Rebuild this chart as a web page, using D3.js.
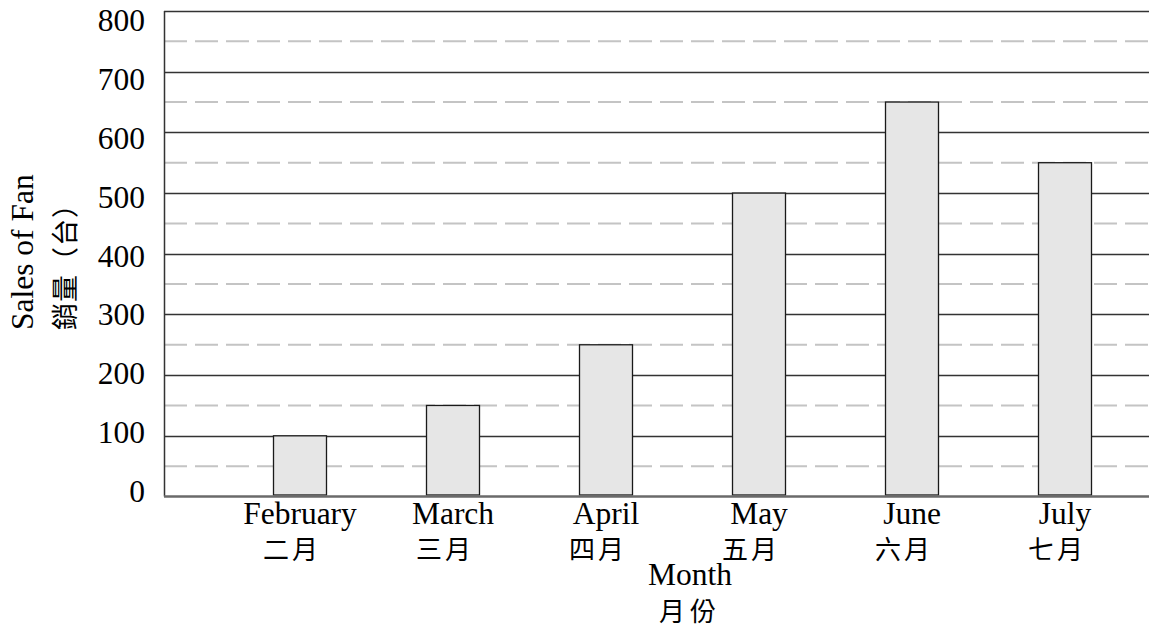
<!DOCTYPE html>
<html>
<head>
<meta charset="utf-8">
<script src="https://cdn.jsdelivr.net/npm/d3@7"></script>
<style>
  html, body { margin: 0; padding: 0; background: #fff; }
  svg { display: block; }
  .latin { font-family: "Liberation Serif", "Times New Roman", serif; fill: #000; }
  .cjk { font-family: "Noto Sans CJK TC", "Noto Sans CJK SC", sans-serif; fill: #000; }
</style>
</head>
<body>
<svg id="chart" width="1149" height="628"></svg>
<script>
// Monthly fan sales
const monthsEn = ["February", "March", "April", "May", "June", "July"];
const monthsZh = ["二月", "三月", "四月", "五月", "六月", "七月"];
const sales = [100, 150, 250, 500, 650, 550];
const yTicks = [0, 100, 200, 300, 400, 500, 600, 700, 800];
const yMinorTicks = [50, 150, 250, 350, 450, 550, 650, 750];

const W = 1149, H = 628;
const plot = { left: 164, top: 11, right: 1149, bottom: 496.5 };
const latinSize = 31.5, cjkSize = 26;

const svg = d3.select("#chart");

const y = d3.scaleLinear().domain([0, 800]).range([plot.bottom, plot.top]);
// tick labels sit in a slightly tighter band than the gridlines
const yLabel = d3.scaleLinear().domain([0, 800]).range([492, 21]);

const x = d3.scalePoint().domain(monthsEn).range([300, 1065]);
const barWidth = 53;

// dashed half-step gridlines
svg.append("g")
  .selectAll("line")
  .data(yMinorTicks)
  .join("line")
  .attr("x1", plot.left).attr("x2", plot.right)
  .attr("y1", d => y(d)).attr("y2", d => y(d))
  .attr("stroke", "#c4c4c4")
  .attr("stroke-width", 2)
  .attr("stroke-dasharray", "23 8");

// solid gridlines
svg.append("g")
  .selectAll("line")
  .data(yTicks.filter(d => d > 0))
  .join("line")
  .attr("x1", plot.left).attr("x2", plot.right)
  .attr("y1", d => Math.round(y(d)) + 0.5).attr("y2", d => Math.round(y(d)) + 0.5)
  .attr("stroke", "#333")
  .attr("stroke-width", 1.3);

// left axis line
svg.append("line")
  .attr("x1", plot.left + 0.5).attr("x2", plot.left + 0.5)
  .attr("y1", plot.top).attr("y2", plot.bottom)
  .attr("stroke", "#333").attr("stroke-width", 1.5);

// bars
svg.append("g")
  .selectAll("rect")
  .data(sales)
  .join("rect")
  .attr("x", (d, i) => x(monthsEn[i]) - barWidth / 2)
  .attr("width", barWidth)
  .attr("y", d => y(d))
  .attr("height", d => y(0) - 1.5 - y(d))
  .attr("fill", "#e6e6e6")
  .attr("stroke", "#1a1a1a")
  .attr("stroke-width", 1.3);

// baseline
svg.append("line")
  .attr("x1", plot.left).attr("x2", plot.right)
  .attr("y1", plot.bottom).attr("y2", plot.bottom)
  .attr("stroke", "#6a6a6a").attr("stroke-width", 2.5);

// y tick labels
svg.append("g")
  .selectAll("text")
  .data(yTicks)
  .join("text")
  .attr("class", "latin")
  .attr("x", 145)
  .attr("y", d => yLabel(d) + latinSize * 0.32)
  .attr("text-anchor", "end")
  .attr("font-size", latinSize)
  .text(d => d);

// x category labels
const xl = svg.append("g");
xl.selectAll("text.en")
  .data(monthsEn)
  .join("text")
  .attr("class", "latin en")
  .attr("x", d => x(d))
  .attr("y", 524)
  .attr("text-anchor", "middle")
  .attr("font-size", latinSize)
  .text(d => d);
xl.selectAll("text.zh")
  .data(monthsZh)
  .join("text")
  .attr("class", "cjk zh")
  .attr("x", (d, i) => x(monthsEn[i]) - 8)
  .attr("y", 559)
  .attr("text-anchor", "middle")
  .attr("font-size", cjkSize)
  .attr("letter-spacing", 3)
  .text(d => d);

// x axis title
svg.append("text")
  .attr("class", "latin")
  .attr("x", 690).attr("y", 585)
  .attr("text-anchor", "middle")
  .attr("font-size", latinSize)
  .text("Month");
svg.append("text")
  .attr("class", "cjk")
  .attr("x", 690).attr("y", 621)
  .attr("text-anchor", "middle")
  .attr("font-size", cjkSize)
  .attr("letter-spacing", 5)
  .text("月份");

// y axis title (rotated)
const yt = svg.append("g").attr("transform", "translate(0,330) rotate(-90)");
yt.append("text")
  .attr("class", "latin")
  .attr("x", 0).attr("y", 33)
  .attr("font-size", latinSize)
  .text("Sales of Fan");
yt.append("text")
  .attr("class", "cjk")
  .attr("x", 0).attr("y", 75)
  .attr("font-size", 27)
  .attr("letter-spacing", 1)
  .text("銷量（台）");
</script>
</body>
</html>
